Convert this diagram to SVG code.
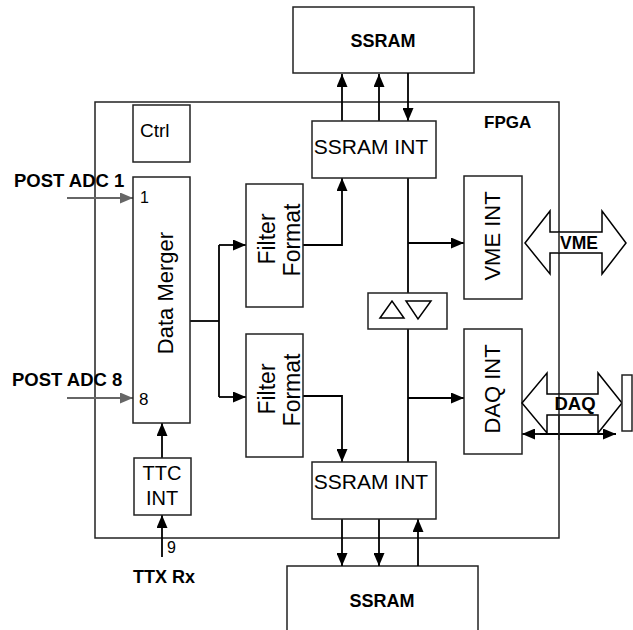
<svg xmlns="http://www.w3.org/2000/svg" width="633" height="630" viewBox="0 0 633 630">
<defs>
<marker id="ah" viewBox="0 0 13 11" refX="13" refY="5.5" markerWidth="13" markerHeight="11" markerUnits="userSpaceOnUse" orient="auto"><path d="M0,0 L13,5.5 L0,11 Z" fill="#000"/></marker>
<marker id="ahg" viewBox="0 0 13 11" refX="13" refY="5.5" markerWidth="13" markerHeight="11" markerUnits="userSpaceOnUse" orient="auto"><path d="M0,0 L13,5.5 L0,11 Z" fill="#666"/></marker>
</defs>
<style>
.box{fill:#fff;stroke:#222;stroke-width:1.5}
.ln{fill:none;stroke:#000;stroke-width:1.8}
.t{font-family:"Liberation Sans",Arial,sans-serif;fill:#000}
.b{font-weight:bold}
.r{font-size:22px}
</style>
<rect width="633" height="630" fill="#fff"/>
<g id="fpga"><rect x="95" y="102" width="464" height="436" fill="none" stroke="#222" stroke-width="1.5"/><text class="t b" font-size="17" x="484" y="128">FPGA</text></g>
<g id="ssram-top"><rect class="box" x="293" y="7" width="181" height="66"/><text class="t b" font-size="18" x="383" y="47" text-anchor="middle">SSRAM</text></g>
<g id="ssram-bot"><rect class="box" x="287" y="566" width="191" height="70"/><text class="t b" font-size="18" x="382" y="607" text-anchor="middle">SSRAM</text></g>
<g id="connectors">
<line class="ln" x1="342" y1="121" x2="342" y2="74" marker-end="url(#ah)"/>
<line class="ln" x1="379" y1="121" x2="379" y2="74" marker-end="url(#ah)"/>
<line class="ln" x1="408" y1="73" x2="408" y2="121" marker-end="url(#ah)"/>
<line class="ln" x1="342" y1="519" x2="342" y2="566" marker-end="url(#ah)"/>
<line class="ln" x1="379" y1="519" x2="379" y2="566" marker-end="url(#ah)"/>
<line class="ln" x1="418" y1="566" x2="418" y2="519" marker-end="url(#ah)"/>
<line x1="67" y1="198" x2="133" y2="198" stroke="#666" stroke-width="1.8" marker-end="url(#ahg)"/>
<line x1="67" y1="398" x2="133" y2="398" stroke="#666" stroke-width="1.8" marker-end="url(#ahg)"/>
<line class="ln" x1="162" y1="458" x2="162" y2="423" marker-end="url(#ah)"/>
<line class="ln" x1="162" y1="557" x2="162" y2="515" marker-end="url(#ah)"/>
<path class="ln" d="M190,321 H219"/>
<path class="ln" d="M219,245 V397"/>
<line class="ln" x1="219" y1="245" x2="246" y2="245" marker-end="url(#ah)"/>
<line class="ln" x1="219" y1="397" x2="246" y2="397" marker-end="url(#ah)"/>
<path class="ln" d="M303,245 H342 V178" marker-end="url(#ah)"/>
<path class="ln" d="M303,396 H342 V462" marker-end="url(#ah)"/>
<line class="ln" x1="408" y1="178" x2="408" y2="462"/>
<line class="ln" x1="408" y1="243" x2="464" y2="243" marker-end="url(#ah)"/>
<line class="ln" x1="408" y1="398" x2="464" y2="398" marker-end="url(#ah)"/>
<line class="ln" x1="540" y1="434" x2="522" y2="434" marker-end="url(#ah)"/>
<line class="ln" x1="540" y1="434" x2="616" y2="434" marker-end="url(#ah)"/>
</g>
<g id="ssram-int-top"><rect class="box" x="312" y="121" width="124" height="57"/><text class="t" font-size="21" x="371" y="154" text-anchor="middle">SSRAM INT</text></g>
<g id="ssram-int-bot"><rect class="box" x="312" y="462" width="124" height="57"/><text class="t" font-size="21" x="371" y="489" text-anchor="middle">SSRAM INT</text></g>
<g id="ctrl"><rect class="box" x="133" y="105" width="57" height="57"/><text class="t" font-size="19" x="140" y="137">Ctrl</text></g>
<g id="data-merger"><rect class="box" x="133" y="177" width="57" height="246"/><text class="t r" font-size="23" transform="translate(173,293) rotate(-90)" text-anchor="middle">Data Merger</text><text class="t" font-size="16" x="140" y="203">1</text><text class="t" font-size="17" x="139" y="405">8</text></g>
<g id="post-adc"><text class="t b" font-size="18.5" x="14" y="187">POST ADC 1</text><text class="t b" font-size="18.5" x="12" y="386">POST ADC 8</text></g>
<g id="ttc-int"><rect class="box" x="134" y="458" width="57" height="57"/><text class="t" font-size="20" x="162" y="480" text-anchor="middle">TTC</text><text class="t" font-size="20" x="162" y="505" text-anchor="middle">INT</text></g>
<g id="ttx"><text class="t" font-size="16" x="167" y="553">9</text><text class="t b" font-size="18" x="133" y="583">TTX Rx</text></g>
<g id="filter-top"><rect class="box" x="246" y="184" width="57" height="123"/><text class="t" font-size="23" transform="translate(275,239) rotate(-90)" text-anchor="middle">Filter</text><text class="t" font-size="23" transform="translate(300,240) rotate(-90)" text-anchor="middle">Format</text></g>
<g id="filter-bot"><rect class="box" x="246" y="334" width="57" height="123"/><text class="t" font-size="23" transform="translate(275,389) rotate(-90)" text-anchor="middle">Filter</text><text class="t" font-size="23" transform="translate(300,390) rotate(-90)" text-anchor="middle">Format</text></g>
<g id="arbiter"><rect class="box" x="368" y="293" width="79" height="36"/><path d="M380,318 L392,301 L404,318 Z M406,301 L431,301 L418,319 Z" fill="none" stroke="#000" stroke-width="1.5"/></g>
<g id="vme-int"><rect class="box" x="464" y="176" width="58" height="123"/><text class="t" font-size="22" transform="translate(500,236) rotate(-90)" text-anchor="middle">VME INT</text></g>
<g id="daq-int"><rect class="box" x="464" y="329" width="58" height="125"/><text class="t" font-size="22" transform="translate(500,389) rotate(-90)" text-anchor="middle">DAQ INT</text></g>
<g id="vme-bus"><path d="M525,243 L550,211 L550,232 L602,232 L602,211 L626,243 L602,274 L602,253 L550,253 L550,274 Z" fill="#fff" stroke="#000" stroke-width="1.5"/><line x1="559" y1="232" x2="559" y2="253" stroke="#222" stroke-width="1.5"/><text class="t b" font-size="17.5" x="579" y="249" text-anchor="middle">VME</text></g>
<g id="daq-bus"><path d="M522,403 L547,373 L547,394 L598,394 L598,373 L622,403 L598,433 L598,415 L547,415 L547,433 Z" fill="#fff" stroke="#000" stroke-width="1.5"/><line x1="559" y1="394" x2="559" y2="440" stroke="#222" stroke-width="1.5"/><text class="t b" font-size="18.5" x="575" y="410" text-anchor="middle">DAQ</text><rect class="box" x="622" y="375" width="10" height="56"/></g>
</svg>
